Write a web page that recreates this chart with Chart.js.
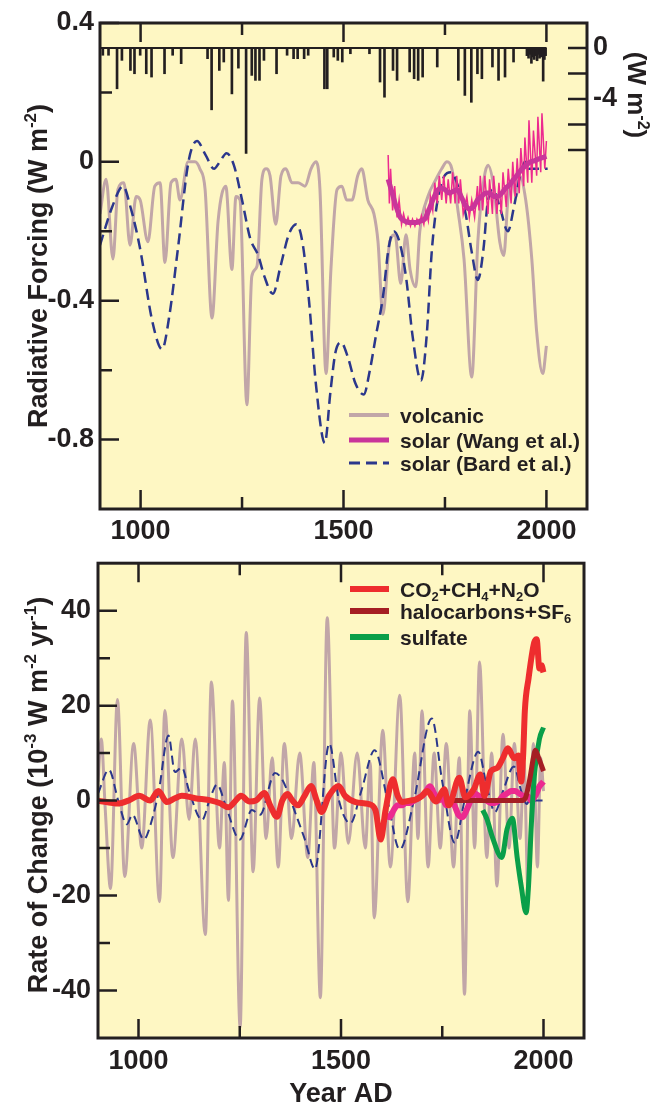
<!DOCTYPE html>
<html>
<head>
<meta charset="utf-8">
<script src="https://cdn.jsdelivr.net/npm/chart.js@4.4.0/dist/chart.umd.min.js"></script>
<style>
  html, body { margin: 0; padding: 0; background: #fff; }
  #wrap { position: relative; width: 663px; height: 1105px; }
  canvas { position: absolute; left: 0; }
  #forcing { top: 0; }
  #rate { top: 540px; }
</style>
</head>
<body>
<div id="wrap">
  <canvas id="forcing" width="663" height="540"></canvas>
  <canvas id="rate" width="663" height="565"></canvas>
</div>
<script>
// ---- top panel: radiative forcing (W m-2) ----
const volcYears = [900,915,932,944,959,974,989,999,1018,1035,1048,1060,1075,1087,1097,1117,1134,1146,1159,1176,1191,1210,1225,1235,1245,1262,1274,1287,1299,1309,1319,1333,1346,1358,1373,1388,1405,1420,1432,1442,1457,1469,1484,1496,1508,1521,1535,1545,1560,1575,1585,1597,1614,1627,1641,1654,1664,1678,1688,1708,1728,1742,1755,1767,1782,1797,1816,1831,1846,1856,1870,1885,1895,1905,1915,1925,1934,1949,1964,1976,1991,2000];
const volcForcing = [-0.15,-0.05,-0.28,-0.08,-0.06,-0.24,-0.10,-0.11,-0.23,-0.07,-0.06,-0.29,-0.06,-0.05,-0.11,0.0,0.0,-0.02,-0.08,-0.45,-0.17,-0.07,-0.31,-0.10,-0.11,-0.70,-0.33,-0.30,-0.05,-0.02,-0.04,-0.18,-0.04,-0.02,-0.06,-0.06,-0.07,-0.02,0.0,-0.08,-0.61,-0.31,-0.08,-0.07,-0.11,-0.11,-0.04,-0.02,-0.11,-0.15,-0.23,-0.44,-0.23,-0.21,-0.35,-0.21,-0.31,-0.36,-0.20,-0.10,-0.05,-0.02,0.0,-0.02,-0.14,-0.28,-0.62,-0.23,-0.05,-0.01,-0.07,-0.23,-0.27,-0.11,-0.05,-0.10,-0.04,-0.11,-0.28,-0.49,-0.61,-0.53];

const bardYears = [900,930,957,975,998,1029,1053,1070,1092,1118,1139,1160,1181,1195,1212,1230,1250,1270,1290,1305,1326,1345,1365,1384,1400,1415,1432,1454,1468,1480,1494,1510,1530,1550,1565,1580,1597,1611,1624,1640,1655,1670,1691,1705,1718,1739,1765,1785,1801,1816,1831,1845,1855,1868,1885,1905,1920,1935,1947,1957,2003];
const bardForcing = [-0.24,-0.13,-0.07,-0.13,-0.245,-0.46,-0.54,-0.45,-0.25,0.0,0.06,0.02,-0.02,0.0,0.025,-0.01,-0.11,-0.22,-0.27,-0.33,-0.38,-0.30,-0.21,-0.18,-0.24,-0.40,-0.64,-0.81,-0.66,-0.55,-0.52,-0.56,-0.64,-0.67,-0.60,-0.50,-0.39,-0.25,-0.20,-0.24,-0.34,-0.50,-0.63,-0.50,-0.25,-0.07,-0.03,-0.08,-0.15,-0.26,-0.34,-0.25,-0.12,-0.08,-0.13,-0.20,-0.13,-0.04,0.0,-0.02,-0.02];

const wangSmoothYears = [1610,1620,1630,1640,1650,1660,1670,1680,1690,1700,1710,1720,1730,1740,1750,1760,1770,1780,1790,1800,1810,1820,1830,1840,1850,1860,1870,1880,1890,1900,1910,1920,1930,1940,1950,1960,1970,1980,1990,2000];
const wangSmooth = [-0.05,-0.09,-0.13,-0.16,-0.17,-0.175,-0.175,-0.175,-0.17,-0.165,-0.14,-0.11,-0.085,-0.075,-0.08,-0.09,-0.085,-0.08,-0.10,-0.125,-0.135,-0.13,-0.11,-0.10,-0.09,-0.09,-0.10,-0.10,-0.09,-0.075,-0.065,-0.05,-0.035,-0.02,-0.01,0.0,0.003,0.008,0.012,0.016];

const wangAnnualYears = [1610,1613,1616,1621,1626,1632,1637,1643,1648,1654,1659,1665,1670,1676,1681,1687,1692,1698,1703,1709,1714,1720,1725,1731,1736,1742,1747,1753,1758,1764,1769,1775,1779,1784,1788,1795,1804,1810,1816,1823,1830,1834,1837,1843,1848,1856,1860,1867,1870,1878,1883,1889,1893,1901,1906,1913,1917,1923,1928,1933,1937,1944,1947,1954,1957,1964,1968,1976,1979,1986,1989,1996,2000];
const wangAnnual = [0.02,-0.12,-0.02,-0.14,-0.07,-0.16,-0.11,-0.18,-0.15,-0.18,-0.16,-0.185,-0.165,-0.185,-0.165,-0.18,-0.155,-0.18,-0.14,-0.17,-0.10,-0.14,-0.06,-0.12,-0.04,-0.11,-0.04,-0.12,-0.05,-0.12,-0.03,-0.12,-0.04,-0.12,-0.05,-0.15,-0.10,-0.16,-0.11,-0.16,-0.07,-0.14,-0.04,-0.14,-0.04,-0.15,-0.05,-0.15,-0.04,-0.15,-0.06,-0.15,-0.03,-0.13,-0.02,-0.12,0.0,-0.10,0.01,-0.09,0.04,-0.07,0.07,-0.06,0.12,-0.06,0.09,-0.04,0.13,-0.03,0.14,-0.02,0.06];

// individual eruptions, right axis (W m-2)
const eruptionYears = [907,921,942,954,975,985,999,1014,1027,1059,1079,1100,1165,1175,1194,1205,1225,1241,1260,1274,1283,1293,1304,1335,1361,1377,1387,1403,1413,1453,1460,1476,1486,1497,1517,1564,1590,1601,1622,1632,1663,1674,1684,1695,1731,1783,1799,1815,1830,1841,1867,1882,1898,1919,1952,1956,1960,1963,1966,1970,1974,1977,1980,1983,1986,1989,1992,1995,1998];
const eruptionForcing = [-0.57,-0.57,-3.2,-0.97,-1.76,-2.02,-0.57,-2.02,-2.28,-2.02,-0.57,-1.23,-0.84,-4.85,-1.76,-1.1,-3.6,-1.58,-8.27,-2.15,-2.54,-2.54,-0.97,-2.02,-0.57,-0.84,-0.84,-0.84,-0.57,-3.2,-3.2,-0.71,-0.97,-1.1,-0.45,-0.45,-2.67,-3.86,-1.76,-2.54,-1.88,-2.41,-2.54,-2.28,-1.49,-2.54,-3.72,-4.26,-2.02,-2.41,-1.49,-2.54,-2.28,-1.1,-0.6,-0.8,-0.5,-1.2,-0.7,-0.9,-0.6,-1.0,-0.5,-0.8,-0.7,-0.6,-2.6,-0.9,-0.6];
const eruptionBaseYears = [900,2000];
const eruptionBase = [0,0];

// ---- bottom panel: rate of change (10-3 W m-2 yr-1) ----
const volcRateYears = [900,908,918,931,948,966,988,1008,1029,1052,1065,1085,1107,1125,1140,1165,1180,1200,1212,1222,1232,1251,1266,1283,1299,1315,1330,1345,1360,1378,1398,1418,1433,1449,1466,1484,1500,1518,1540,1560,1572,1582,1603,1622,1645,1665,1682,1690,1700,1715,1730,1745,1760,1778,1792,1805,1818,1830,1842,1860,1872,1885,1900,1915,1928,1942,1952,1962,1975,1985,1993,2000];
const volcRate = [4,13,-2,-18.5,21.3,-16,12,-10,17,-21.3,19,-12,13,-4,13,-28.2,25,-10,8,-21,21,-47.7,35.4,-15,21.6,-8,9,-14,12,-8,10,-12,8,-41.5,38.5,-10,10,-9,10,-10,8,-24.7,14.8,-14,22.2,-21.3,10,-8,18.9,-14,10,-10,12,-14,9,-40.8,18.9,-10,29.2,-12,10,-18,14,-10,12,-8,8,-20,12,-14,9,2];

const bardRateYears = [900,927,950,971,985,1013,1030,1050,1074,1090,1107,1125,1157,1175,1194,1215,1250,1280,1300,1337,1355,1389,1410,1436,1471,1495,1523,1550,1583,1615,1645,1680,1724,1750,1781,1805,1839,1860,1880,1900,1927,1945,1959,1965,2000];
const bardRate = [1.5,6.5,0,-5,-3,-8.2,-5,2,13.7,6,7,2,-4.1,0,3.4,-1,-8.2,-2,-3,5.8,4.4,-3,-8,-14.4,12,0,-4.8,2,10.6,0,-10.3,0,17.3,4,-8.9,0,10.3,3,-2.4,2,7.2,2,-0.7,0,0];

const wangRateYears = [1610,1620,1630,1640,1650,1660,1670,1680,1690,1700,1710,1720,1730,1740,1750,1760,1770,1780,1790,1800,1810,1820,1830,1840,1850,1860,1870,1880,1890,1900,1910,1920,1930,1940,1950,1960,1970,1980,1990,2000];
const wangRate = [-3,-3.5,-2,-1,-1,-0.5,-0.5,0,0.5,1,2,3,1.5,0,0.5,-1,0,-1,-3,-3.5,-2,0,1.5,1,0.5,0,-0.5,-0.5,0,1,1.5,2,2,1.5,1,1,0,1,3,4];

const ghgRateYears = [900,950,975,1002,1029,1049,1070,1090,1107,1140,1180,1200,1222,1240,1253,1274,1290,1311,1325,1342,1355,1368,1380,1394,1410,1426,1440,1452,1470,1494,1510,1536,1567,1585,1598,1610,1628,1640,1651,1670,1687,1700,1713,1734,1755,1766,1792,1807,1828,1844,1854,1870,1886,1900,1912,1928,1938,1945,1950,1954,1963,1977,1983,1990,1995,2000];
const ghgRate = [0,-0.6,0,1,0,2,-0.3,0.5,1,0.5,0,-0.5,-1.4,0,1,-0.2,0,1.6,-1,-3.4,0,1.4,0,-1,1,3.1,0,-2.4,1,3.1,1,-0.3,-0.7,-2,-8.2,-2,4.5,1,-0.3,0,0.3,1,2,-0.2,2.4,-1,4.8,0.7,2.4,5.5,1,6.2,6.9,9,11,8.9,9.5,4,10,19,25.7,33.3,34,27.8,28.5,27];

const haloRateYears = [1765,1945,1955,1965,1975,1980,1988,2000];
const haloRate = [0,0,0.5,4,9,10.6,9,6.2];

const sulfRateYears = [1850,1860,1875,1897,1910,1923,1935,1945,1957,1963,1970,1978,1990,2000];
const sulfRate = [-2,-3.8,-8,-12,-6,-3.7,-12,-18,-23.6,-18,-5,5.8,13,15.4];

// axes
const xLabelYears = [1000,1500,2000];
const xMinorYears = [1250,1750];
const forcingTicks = [0.4,0,-0.4,-0.8];
const forcingMinor = [0.2,-0.2,-0.6];
const eruptionTicks = [0,-2,-4,-6,-8];
const eruptionLabelled = [0,-4];
const rateTicks = [40,20,0,-20,-40];
const rateMinor = [30,10,-10,-30];

const FONT = '"Liberation Sans", Arial, Helvetica, sans-serif';
const INK = '#231F20';
const BG = '#FEF7C3';
const MAUVE = '#C1A6A8';
const NAVY = '#2B378C';
const PINK = '#EC2A8F';
const PURPLE = '#C9359A';
const RED = '#EE2D2E';
const DARKRED = '#A51E23';
const GREEN = '#0A9F49';

const pts = (xs, ys) => xs.map((x, i) => ({ x, y: ys[i] }));

function drawRich(ctx, parts, x, y, size) {
  const small = Math.round(size * 0.62);
  const fontOf = (p) => `bold ${p[1] ? small : size}px ${FONT}`;
  let total = 0;
  parts.forEach((p) => { ctx.font = fontOf(p); total += ctx.measureText(p[0]).width; });
  let cx = x - total / 2;
  ctx.textAlign = 'left';
  ctx.textBaseline = 'alphabetic';
  parts.forEach((p) => {
    ctx.font = fontOf(p);
    const dy = p[1] === 'sup' ? -size * 0.38 : p[1] === 'sub' ? size * 0.2 : 0;
    ctx.fillText(p[0], cx, y + dy);
    cx += ctx.measureText(p[0]).width;
  });
  return total;
}

function drawRichLeft(ctx, parts, x, y, size) {
  ctx.font = `bold ${size}px ${FONT}`;
  let total = 0;
  const small = Math.round(size * 0.62);
  parts.forEach((p) => { ctx.font = `bold ${p[1] ? small : size}px ${FONT}`; total += ctx.measureText(p[0]).width; });
  drawRich(ctx, parts, x + total / 2, y, size);
}

// background, frame, inward ticks, titles and legend
const framePlugin = {
  id: 'frame',
  beforeDraw(chart) {
    const { ctx, chartArea: a } = chart;
    ctx.save();
    ctx.fillStyle = BG;
    ctx.fillRect(a.left, a.top, a.right - a.left, a.bottom - a.top);
    ctx.restore();
  },
  afterDraw(chart, args, o) {
    const { ctx, chartArea: a, scales } = chart;
    ctx.save();
    ctx.strokeStyle = INK;
    ctx.lineWidth = 2.5;
    ctx.beginPath();
    xLabelYears.forEach((v) => {
      const px = scales.x.getPixelForValue(v);
      ctx.moveTo(px, a.bottom); ctx.lineTo(px, a.bottom - 19);
      ctx.moveTo(px, a.top); ctx.lineTo(px, a.top + 19);
    });
    xMinorYears.forEach((v) => {
      const px = scales.x.getPixelForValue(v);
      ctx.moveTo(px, a.bottom); ctx.lineTo(px, a.bottom - 12);
      ctx.moveTo(px, a.top); ctx.lineTo(px, a.top + 12);
    });
    o.yMajor.forEach((v) => {
      const py = scales.y.getPixelForValue(v);
      ctx.moveTo(a.left, py); ctx.lineTo(a.left + 19, py);
    });
    o.yMinor.forEach((v) => {
      const py = scales.y.getPixelForValue(v);
      ctx.moveTo(a.left, py); ctx.lineTo(a.left + 12, py);
    });
    if (scales.y2) {
      eruptionTicks.forEach((v) => {
        const py = scales.y2.getPixelForValue(v);
        ctx.moveTo(a.right, py); ctx.lineTo(a.right - 19, py);
      });
    }
    ctx.stroke();
    ctx.lineWidth = 3;
    ctx.strokeRect(a.left, a.top, a.right - a.left, a.bottom - a.top);

    ctx.fillStyle = INK;
    o.titles.forEach((t) => {
      ctx.save();
      ctx.translate(t.x, t.y);
      ctx.rotate(t.rot);
      drawRich(ctx, t.parts, 0, t.size * 0.36, t.size);
      ctx.restore();
    });

    const L = o.legend;
    L.items.forEach((it, i) => {
      const y = L.y[i];
      ctx.save();
      ctx.strokeStyle = it.color;
      ctx.lineWidth = it.width;
      ctx.setLineDash(it.dash || []);
      ctx.beginPath();
      ctx.moveTo(L.x0, y); ctx.lineTo(L.x1, y);
      ctx.stroke();
      ctx.restore();
      ctx.fillStyle = INK;
      drawRichLeft(ctx, it.parts, L.tx, y + L.size * 0.36, L.size);
    });
    ctx.restore();
  }
};

const tickFont = { family: FONT, size: 27, weight: 'bold' };
const xAxis = (h, pad) => ({
  type: 'linear', min: 900, max: 2100, offset: false,
  grid: { display: false, drawTicks: false }, border: { display: false },
  afterBuildTicks: (s) => { s.ticks = xLabelYears.map((v) => ({ value: v })); },
  afterFit: (s) => { s.height = h; },
  ticks: { padding: pad, font: tickFont, color: INK, maxRotation: 0, autoSkip: false, callback: (v) => String(v) }
});

const common = {
  responsive: false,
  animation: false,
  events: [],
  elements: { point: { radius: 0 } }
};

new Chart(document.getElementById('forcing'), {
  type: 'line',
  data: {
    datasets: [
      { label: 'solar (Wang et al.)', data: pts(wangSmoothYears, wangSmooth), borderColor: PURPLE, borderWidth: 5, cubicInterpolationMode: 'monotone', yAxisID: 'y' },
      { label: 'solar (Wang et al.) annual', data: pts(wangAnnualYears, wangAnnual), borderColor: PINK, borderWidth: 1.5, tension: 0, yAxisID: 'y' },
      { label: 'solar (Bard et al.)', data: pts(bardYears, bardForcing), borderColor: NAVY, borderWidth: 2.5, borderDash: [11, 6], cubicInterpolationMode: 'monotone', yAxisID: 'y' },
      { label: 'volcanic', data: pts(volcYears, volcForcing), borderColor: MAUVE, borderWidth: 3, cubicInterpolationMode: 'monotone', yAxisID: 'y' },
      { label: 'eruption base', data: pts(eruptionBaseYears, eruptionBase), borderColor: INK, borderWidth: 2, tension: 0, yAxisID: 'y2' },
      { type: 'bar', label: 'eruptions', data: pts(eruptionYears, eruptionForcing), backgroundColor: INK, barThickness: 2, grouped: false, yAxisID: 'y2' }
    ]
  },
  options: {
    ...common,
    layout: { padding: { top: 23, right: 0, bottom: 0, left: 0 }, autoPadding: false },
    plugins: {
      legend: { display: false },
      tooltip: { enabled: false },
      frame: {
        yMajor: forcingTicks, yMinor: forcingMinor,
        titles: [
          { x: 37, y: 266, rot: -Math.PI / 2, size: 27, parts: [['Radiative Forcing (W m', ''], ['-2', 'sup'], [')', '']] },
          { x: 637, y: 95, rot: Math.PI / 2, size: 26, parts: [['(W m', ''], ['-2', 'sup'], [')', '']] }
        ],
        legend: {
          x0: 349, x1: 389, tx: 400, size: 21, y: [415, 440, 463],
          items: [
            { color: MAUVE, width: 4, parts: [['volcanic', '']] },
            { color: PURPLE, width: 5, parts: [['solar (Wang et al.)', '']] },
            { color: NAVY, width: 3, dash: [11, 6], parts: [['solar (Bard et al.)', '']] }
          ]
        }
      }
    },
    scales: {
      x: xAxis(31, 6),
      y: {
        position: 'left', min: -1.0, max: 0.4,
        grid: { display: false, drawTicks: false }, border: { display: false },
        afterBuildTicks: (s) => { s.ticks = forcingTicks.map((v) => ({ value: v })); },
        afterFit: (s) => { s.width = 100; },
        ticks: { padding: 6, font: tickFont, color: INK, callback: (v) => String(v) }
      },
      y2: {
        position: 'right', min: -36.16, max: 1.96,
        grid: { display: false, drawTicks: false }, border: { display: false },
        afterBuildTicks: (s) => { s.ticks = eruptionTicks.map((v) => ({ value: v })); },
        afterFit: (s) => { s.width = 76; },
        ticks: { padding: 6, font: tickFont, color: INK, callback: (v) => (eruptionLabelled.includes(v) ? String(v) : '') }
      }
    }
  },
  plugins: [framePlugin]
});

new Chart(document.getElementById('rate'), {
  type: 'line',
  data: {
    datasets: [
      { label: 'CO2+CH4+N2O', data: pts(ghgRateYears, ghgRate), borderColor: RED, borderWidth: 6, cubicInterpolationMode: 'monotone' },
      { label: 'halocarbons+SF6', data: pts(haloRateYears, haloRate), borderColor: DARKRED, borderWidth: 5, cubicInterpolationMode: 'monotone' },
      { label: 'sulfate', data: pts(sulfRateYears, sulfRate), borderColor: GREEN, borderWidth: 5, cubicInterpolationMode: 'monotone' },
      { label: 'solar (Wang et al.)', data: pts(wangRateYears, wangRate), borderColor: PINK, borderWidth: 6, cubicInterpolationMode: 'monotone' },
      { label: 'solar (Bard et al.)', data: pts(bardRateYears, bardRate), borderColor: NAVY, borderWidth: 2, borderDash: [9, 5], cubicInterpolationMode: 'monotone' },
      { label: 'volcanic', data: pts(volcRateYears, volcRate), borderColor: MAUVE, borderWidth: 3, cubicInterpolationMode: 'monotone' }
    ]
  },
  options: {
    ...common,
    layout: { padding: { top: 12, right: 79, bottom: 0, left: 0 }, autoPadding: false },
    plugins: {
      legend: { display: false },
      tooltip: { enabled: false },
      frame: {
        yMajor: rateTicks, yMinor: rateMinor,
        titles: [
          { x: 37, y: 255, rot: -Math.PI / 2, size: 27, parts: [['Rate of Change (10', ''], ['-3', 'sup'], [' W m', ''], ['-2', 'sup'], [' yr', ''], ['-1', 'sup'], [')', '']] },
          { x: 341, y: 552, rot: 0, size: 27, parts: [['Year AD', '']] }
        ],
        legend: {
          x0: 350, x1: 389, tx: 400, size: 21, y: [49, 71, 97],
          items: [
            { color: RED, width: 6, parts: [['CO', ''], ['2', 'sub'], ['+CH', ''], ['4', 'sub'], ['+N', ''], ['2', 'sub'], ['O', '']] },
            { color: DARKRED, width: 6, parts: [['halocarbons+SF', ''], ['6', 'sub']] },
            { color: GREEN, width: 6, parts: [['sulfate', '']] }
          ]
        }
      }
    },
    scales: {
      x: xAxis(67, 7),
      y: {
        position: 'left', min: -50, max: 50,
        grid: { display: false, drawTicks: false }, border: { display: false },
        afterBuildTicks: (s) => { s.ticks = rateTicks.map((v) => ({ value: v })); },
        afterFit: (s) => { s.width = 98; },
        ticks: { padding: 7, font: tickFont, color: INK, callback: (v) => String(v) }
      }
    }
  },
  plugins: [framePlugin]
});
</script>
</body>
</html>
